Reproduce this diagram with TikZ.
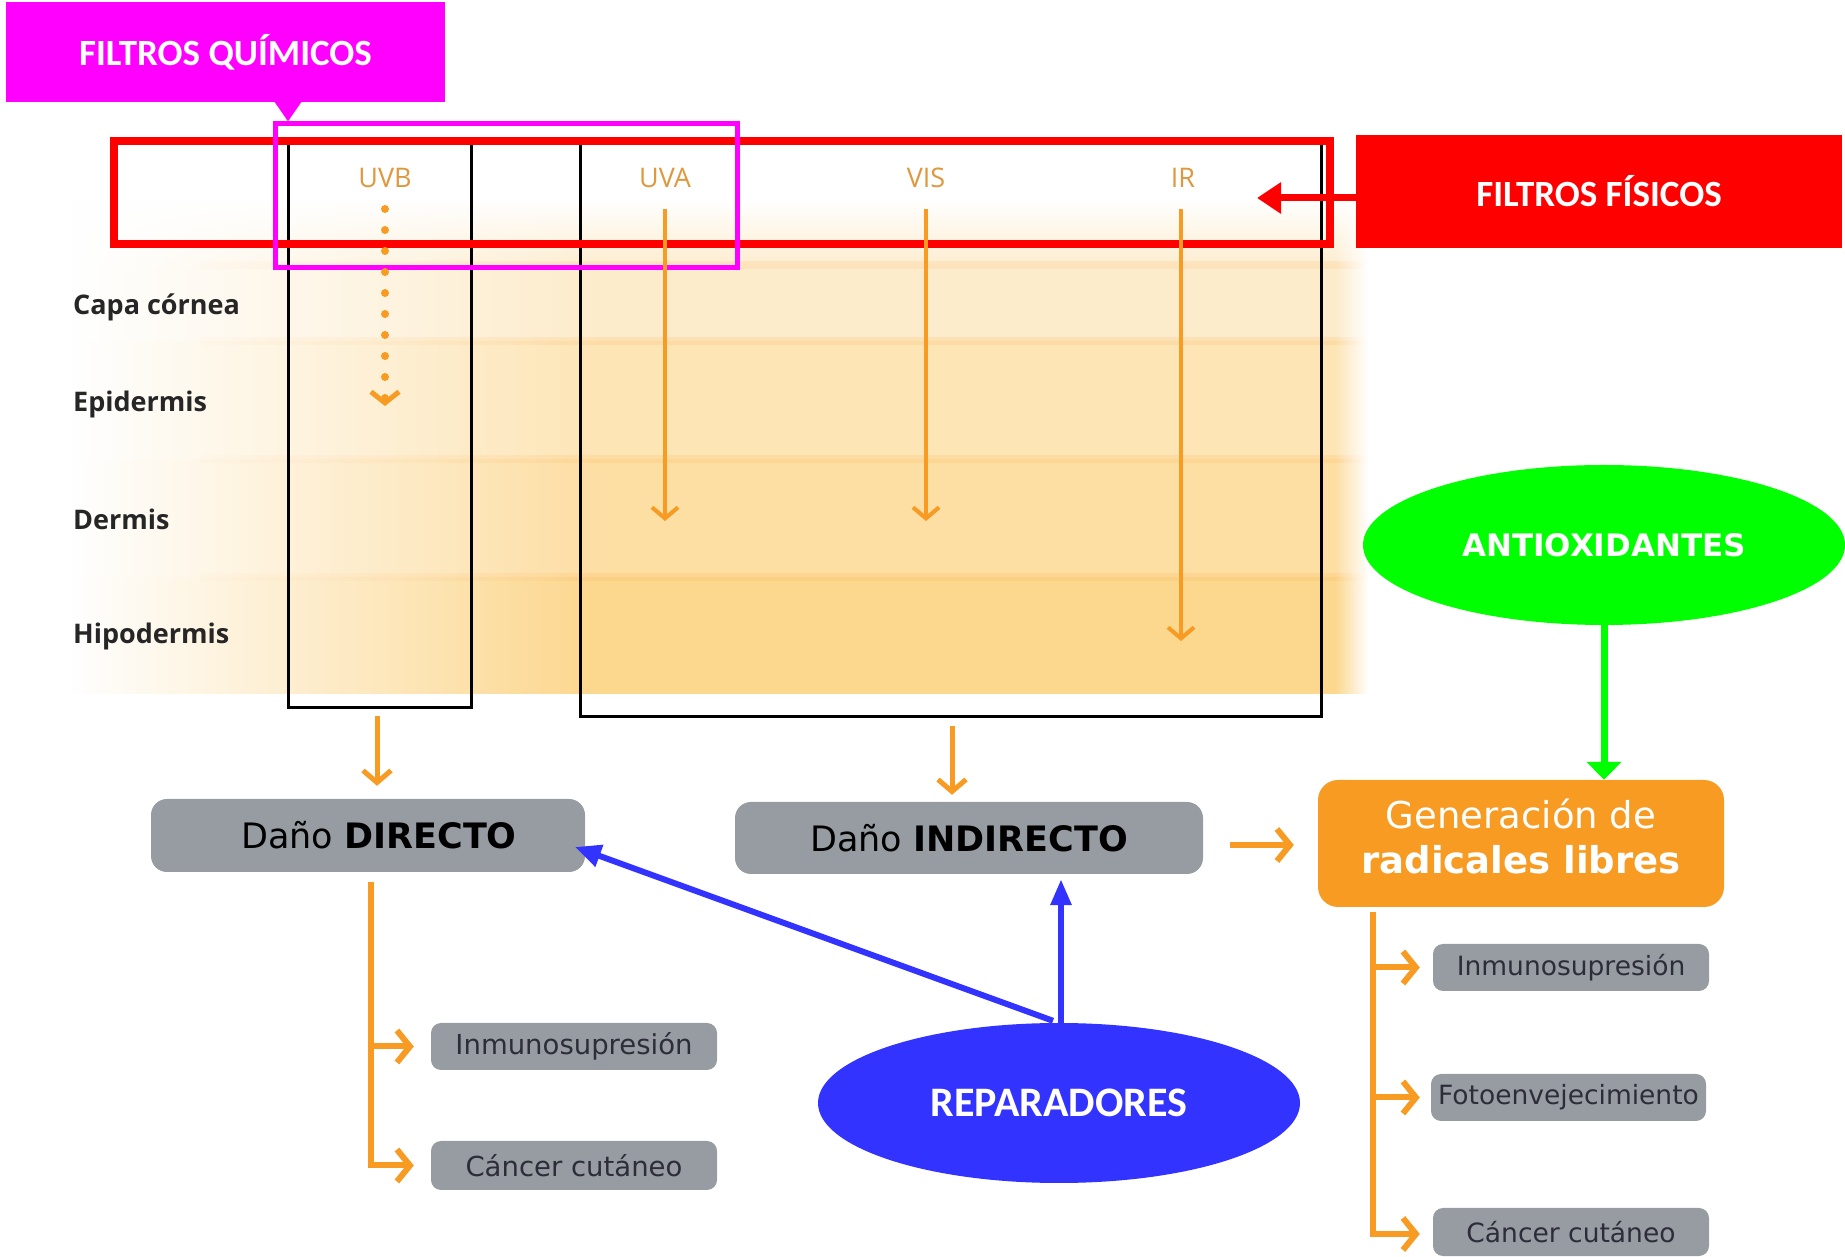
\documentclass[tikz,border=0pt]{standalone}
\usepackage{fontspec}
\setmainfont{DejaVu Sans}
\newfontfamily\calib{Carlito}
\newfontfamily\opensf{Open Sans}
\usetikzlibrary{arrows.meta,shapes.geometric,fadings}
\definecolor{magB}{RGB}{255,0,255}
\definecolor{redB}{RGB}{255,0,0}
\definecolor{orA}{RGB}{247,155,35}
\definecolor{grayB}{RGB}{150,156,162}
\definecolor{greenB}{RGB}{0,255,0}
\definecolor{blueB}{RGB}{51,51,255}
\definecolor{uvcol}{RGB}{222,152,62}
\definecolor{skinA}{RGB}{253,236,204}
\definecolor{skinB}{RGB}{253,229,182}
\definecolor{skinC}{RGB}{253,222,163}
\definecolor{skinD}{RGB}{252,215,142}
\definecolor{txtG}{RGB}{45,45,58}
\tikzfading[name=fadeleft, left color=transparent!0, right color=transparent!100]
\tikzfading[name=faderight, left color=transparent!100, right color=transparent!0]
\tikzfading[name=fadetop, top color=transparent!0, bottom color=transparent!100]
\begin{document}
\begin{tikzpicture}[x=1pt,y=1pt,
  uvarrow/.style={draw=orA, line width=4pt, -{Straight Barb[length=11pt,width=26pt,line width=4pt]}},
  downarrow/.style={draw=orA, line width=5pt, -{Straight Barb[length=12pt,width=28pt,line width=5pt]}},
  obranch/.style={draw=orA, line width=6pt, -{Straight Barb[length=13pt,width=32pt,line width=6pt]}},
  smallbox/.style={fill=grayB, rounded corners=10pt, minimum height=47pt, inner sep=0pt, text=txtG, font=\fontsize{26.5}{31}\selectfont},
  dano/.style={fill=grayB, rounded corners=16pt, inner sep=0pt, text=black, font=\fontsize{35}{42}\selectfont},
  layer/.style={anchor=west, inner sep=0pt, text=black!85, font=\opensf\bfseries\fontsize{27}{31}\selectfont},
  uvlabel/.style={inner sep=0pt, text=uvcol, font=\opensf\fontsize{27}{31}\selectfont},
  filtro/.style={inner sep=0pt, text=white, font=\calib\bfseries\fontsize{37}{44}\selectfont},
  oval/.style={ellipse, minimum width=482pt, minimum height=160pt, inner sep=0pt, text=white},
  blackbox/.style={draw=black, line width=3pt, inner sep=0pt}
]
\useasboundingbox (0,0) rectangle (1845,1256);

% ---------- skin layers ----------
\fill[skinA] (71,915) rectangle (1368,1056);
\fill[skinB] (71,797) rectangle (1368,915);
\fill[skinC] (71,679) rectangle (1368,797);
\fill[skinD] (71,562) rectangle (1368,679);
\foreach \yy in {991,915,797,679}
  \fill[orange!40!skinD, opacity=0.18] (200,\yy-4) rectangle (1368,\yy+4);
\fill[white, path fading=fadetop] (71,985) rectangle (1368,1056);
\fill[white, path fading=fadeleft] (71,562) rectangle (600,1056);
\fill[white, path fading=faderight] (1335,562) rectangle (1368,1056);

% ---------- frames ----------
\node[blackbox, minimum width=183pt, minimum height=564pt] (b1) at (379.5,830) {};
\node[blackbox, minimum width=741pt, minimum height=573pt] (b2) at (950.5,825.5) {};
\node[draw=redB, line width=8pt, minimum width=1216pt, minimum height=103pt, inner sep=0pt] (fbox) at (722,1063.5) {};
\node[draw=magB, line width=5pt, minimum width=462pt, minimum height=144pt, inner sep=0pt] (qbox) at (506,1060) {};

% ---------- filter labels ----------
\node[filtro, fill=magB, minimum width=439pt, minimum height=100pt] (fq) at (225.5,1204) {FILTROS QUÍMICOS};
\node[filtro, fill=redB, minimum width=486pt, minimum height=113pt] (ff) at (1599,1064.5) {FILTROS FÍSICOS};
\coordinate (mq) at (288,1154);
\draw[magB, line width=6pt, -{Triangle[length=20pt,width=26pt]}] (mq) -- (mq |- qbox.north);
\coordinate (fe) at (1257,1058);
\draw[redB, line width=7pt, -{Triangle[length=24pt,width=30pt]}] ([yshift=-6.5pt]ff.west) -- (fe);

% ---------- radiation ----------
\node[uvlabel] (uvb) at (385,1078) {UVB};
\node[uvlabel] (uva) at (665,1078) {UVA};
\node[uvlabel] (vis) at (926,1078) {VIS};
\node[uvlabel] (ir) at (1183,1078) {IR};
\coordinate (uvbE) at (385,850);
\coordinate (uvaE) at (665,735);
\coordinate (visE) at (926,735);
\coordinate (irE) at (1181,615);
\draw[orA, line width=8pt, line cap=round, dash pattern=on 0pt off 21pt, -{Straight Barb[length=11pt,width=28pt,line width=5pt]}] ([yshift=-31pt]uvb.center) -- (uvbE);
\draw[uvarrow] ([yshift=-31pt]uva.center) -- (uvaE);
\draw[uvarrow] ([yshift=-31pt]vis.center) -- (visE);
\draw[uvarrow] ([yshift=-31pt,xshift=-2pt]ir.center) -- (irE);

% ---------- layer labels ----------
\node[layer] (lcapa) at (73,949) {Capa córnea};
\node[layer] (lepi) at (73,852) {Epidermis};
\node[layer] (lder) at (73,737) {Dermis};
\node[layer] (lhip) at (73,620) {Hipodermis};

% ---------- damage ----------
\node[dano, minimum width=434pt, minimum height=73pt] (dir) at (368,420.5) {\hspace*{22pt}Daño \textbf{DIRECTO}};
\node[dano, minimum width=468pt, minimum height=72pt] (indir) at (969,418) {Daño \textbf{INDIRECTO}};
\node[fill=orA, rounded corners=20pt, minimum width=406pt, minimum height=127pt, inner sep=0pt, text=white, align=center, font=\fontsize{37}{45}\selectfont] (gen) at (1521,412.5) {Generación de\\\textbf{radicales libres}\rule[-14pt]{0pt}{1pt}};

\draw[downarrow, shorten <=7pt, shorten >=13pt] ([xshift=-2.5pt]b1.south) -- ([xshift=-2.5pt]b1.south |- dir.north);
\draw[downarrow, shorten <=8pt, shorten >=7pt] ([xshift=1.5pt]b2.south) -- ([xshift=1.5pt]b2.south |- indir.north);
\draw[obranch, shorten <=27pt, shorten >=24pt] ([yshift=-1.5pt]indir.east |- gen.west) -- ([yshift=-1.5pt]gen.west);

% ---------- ovals ----------
\node[oval, fill=greenB, font=\bfseries\fontsize{31}{36}\selectfont] (anti) at (1604,711) {ANTIOXIDANTES};
\node[oval, fill=blueB, font=\calib\bfseries\fontsize{42}{50}\selectfont] (rep) at (1059,153) {REPARADORES};
\draw[greenB, line width=7pt, -{Triangle[length=18pt,width=34pt]}] (anti.south) -- (anti.south |- gen.north);
\coordinate (dtip) at (575,409);
\draw[blueB, line width=6pt, -{Triangle[length=26pt,width=20pt]}] ([xshift=2pt]rep.north) -- ([xshift=2pt,yshift=-5pt]rep.north |- indir.south);
\draw[blueB, line width=6pt, -{Triangle[length=26pt,width=22pt]}] ([xshift=-6pt,yshift=2pt]rep.north) -- (dtip);

% ---------- consequences ----------
\node[smallbox, minimum width=286pt, font=\fontsize{27.5}{32}\selectfont] (li1) at (574,209.5) {Inmunosupresión};
\node[smallbox, minimum width=286pt, minimum height=49pt, font=\fontsize{27.5}{32}\selectfont] (lc1) at (574,90.5) {Cáncer cutáneo};
\node[smallbox, minimum width=276pt] (ri1) at (1571,288.5) {Inmunosupresión};
\node[smallbox, minimum width=275pt] (rf) at (1568.5,158.5) {Fotoenvejecimiento};
\node[smallbox, minimum width=276pt, minimum height=48pt] (rc) at (1571,24) {Cáncer cutáneo};

\coordinate (lt) at (371,374);
\draw[obranch, shorten >=17pt] (lt) |- (li1.west);
\draw[obranch, shorten >=17pt] (lt) |- (lc1.west);
\coordinate (rt) at (1373,344);
\draw[obranch, shorten >=13pt] (rt) |- (ri1.west);
\draw[obranch, shorten >=11pt] (rt) |- (rf.west);
\draw[obranch, shorten >=13pt] (rt) |- ([yshift=-2pt]rc.west);
\end{tikzpicture}
\end{document}
